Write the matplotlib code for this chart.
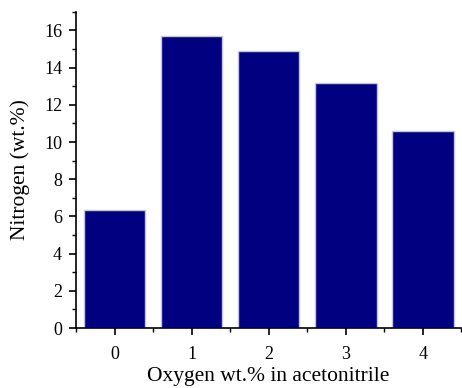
import matplotlib
matplotlib.use("Agg")
import matplotlib.pyplot as plt
from matplotlib.ticker import MultipleLocator

# 數據
categories = ["0", "1", "2", "3", "4"]
nitrogen = [6.35, 15.7, 14.9, 13.15, 10.6]

plt.rcParams['font.family'] = ['Liberation Serif', 'DejaVu Serif']

fig = plt.figure(figsize=(4.62, 3.88), dpi=100)
ax = fig.add_axes([0.1645, 0.1546, 0.834, 0.815])

x = list(range(len(categories)))
ax.bar(x, nitrogen, width=0.8, color='#000080', edgecolor='#c4c4e8', linewidth=1.0)

ax.set_xlim(-0.5, 4.5)
ax.set_ylim(0, 17)
ax.set_xticks(x)
ax.set_xticklabels(categories)
ax.xaxis.set_minor_locator(MultipleLocator(0.5))
ax.yaxis.set_major_locator(MultipleLocator(2))
ax.yaxis.set_minor_locator(MultipleLocator(1))

ax.spines['top'].set_visible(False)
ax.spines['right'].set_visible(False)
ax.spines['left'].set_linewidth(1.2)
ax.spines['bottom'].set_linewidth(1.2)

ax.tick_params(axis='both', which='major', direction='out', length=5, width=1.2, labelsize=13, pad=5)
ax.tick_params(axis='x', which='major', pad=8)
ax.tick_params(axis='both', which='minor', direction='out', length=3, width=1.0)

ax.set_xlabel("Oxygen wt.% in acetonitrile", fontsize=15.5, labelpad=3)
ax.set_ylabel("Nitrogen (wt.%)", fontsize=15.5, labelpad=10)

fig.savefig("out.png", dpi=100)
